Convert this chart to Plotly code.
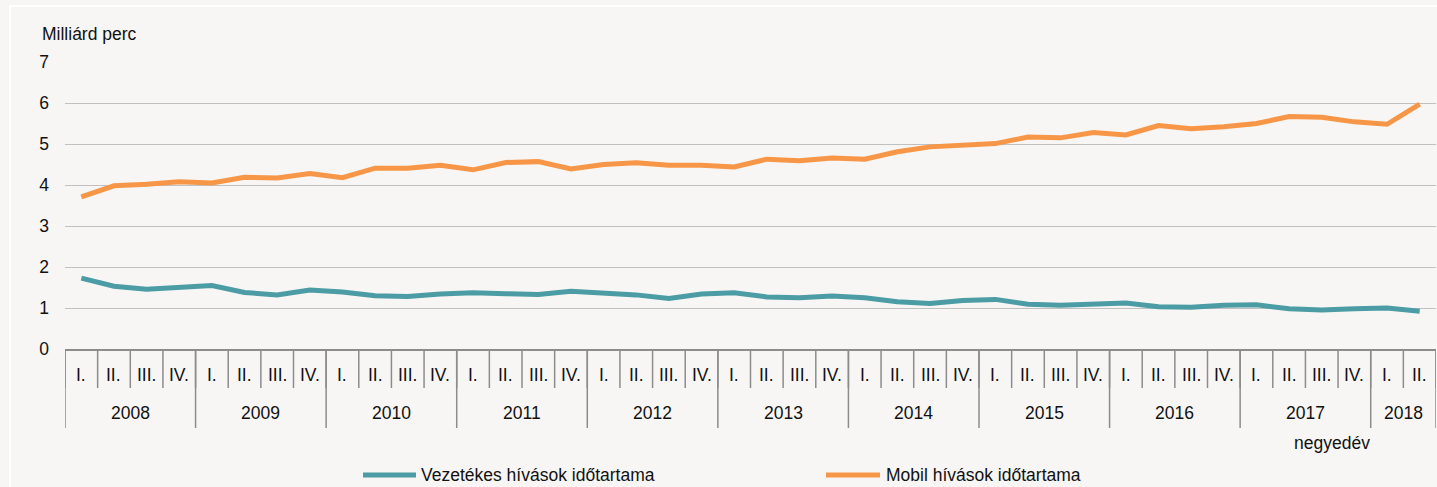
import plotly.graph_objects as go

years = ["2008", "2009", "2010", "2011", "2012", "2013", "2014", "2015", "2016", "2017", "2018"]
quarter_names = ["I.", "II.", "III.", "IV."]
quarters_per_year = [4, 4, 4, 4, 4, 4, 4, 4, 4, 4, 2]

vezetekes = [1.73, 1.53, 1.46, 1.52, 1.55, 1.38, 1.32, 1.44, 1.39, 1.30, 1.28, 1.34,
             1.37, 1.35, 1.33, 1.41, 1.38, 1.32, 1.23, 1.34, 1.37, 1.27, 1.25, 1.29,
             1.25, 1.15, 1.11, 1.18, 1.21, 1.09, 1.07, 1.10, 1.12, 1.03, 1.02, 1.07,
             1.08, 0.98, 0.95, 0.98, 1.00, 0.92]
mobil = [3.71, 3.98, 4.02, 4.08, 4.05, 4.19, 4.17, 4.28, 4.18, 4.41, 4.41, 4.48,
         4.37, 4.55, 4.57, 4.39, 4.50, 4.54, 4.48, 4.48, 4.44, 4.63, 4.59, 4.66,
         4.63, 4.81, 4.93, 4.98, 5.01, 5.17, 5.15, 5.28, 5.22, 5.45, 5.37, 5.42,
         5.50, 5.67, 5.65, 5.54, 5.48, 5.97]

y_title = "Milliárd perc"
x_title = "negyedév"
names = ["Vezetékes hívások időtartama", "Mobil hívások időtartama"]
colors = ["#4b9ca4", "#f79646"]

FONT = "Liberation Sans Narrow, Arial Narrow, Liberation Sans, Arial, sans-serif"
FS = 17.5
TXT = "#111111"
W, H = 1437, 487
ML, MR, MT, MB = 65, 1, 62, 138

q_labels = []
for y, n in zip(years, quarters_per_year):
    q_labels += quarter_names[:n]
N = len(q_labels)
xs = list(range(N))

fig = go.Figure()
for vals, nm, col in zip([vezetekes, mobil], names, colors):
    fig.add_trace(go.Scatter(x=xs, y=vals, mode="lines", name=nm,
                             line=dict(color=col, width=5), showlegend=False))

ph = H - MT - MB
def py(pix):  # pixel y -> paper y
    return (H - MB - pix) / ph
def px(pix):
    return (pix - ML) / (W - ML - MR)

shapes = []
annotations = []

# quarter dividers
for i in range(N + 1):
    shapes.append(dict(type="line", xref="x", yref="paper", x0=i - 0.5, x1=i - 0.5,
                       y0=0, y1=py(388), line=dict(color="#8c8c8c", width=1.5)))
# year dividers and labels
pos = 0
for y, n in zip(years, quarters_per_year):
    shapes.append(dict(type="line", xref="x", yref="paper", x0=pos - 0.5, x1=pos - 0.5,
                       y0=0, y1=py(428), line=dict(color="#8c8c8c", width=1.5)))
    annotations.append(dict(x=pos + (n - 1) / 2, y=py(413), xref="x", yref="paper",
                            text=y, showarrow=False, yanchor="middle",
                            font=dict(family=FONT, size=FS, color=TXT)))
    pos += n
shapes.append(dict(type="line", xref="x", yref="paper", x0=N - 0.5, x1=N - 0.5,
                   y0=0, y1=py(428), line=dict(color="#8c8c8c", width=1.5)))
for i, q in enumerate(q_labels):
    annotations.append(dict(x=i, y=py(375), xref="x", yref="paper", text=q,
                            showarrow=False, yanchor="middle",
                            font=dict(family=FONT, size=FS, color=TXT)))

annotations.append(dict(x=px(1372), y=py(443), xref="paper", yref="paper", text=x_title,
                        showarrow=False, yanchor="middle",
                        font=dict(family=FONT, size=FS, color=TXT)))
annotations.append(dict(x=px(40), y=py(34), xref="paper", yref="paper", text=y_title,
                        showarrow=False, xanchor="left", yanchor="middle",
                        font=dict(family=FONT, size=FS, color=TXT)))

# legend
leg = [(363, 416, 419), (826, 880, 884)]
for (l0, l1, tx), nm, col in zip(leg, names, colors):
    shapes.append(dict(type="line", xref="paper", yref="paper", x0=px(l0), x1=px(l1),
                       y0=py(475), y1=py(475), line=dict(color=col, width=5)))
    annotations.append(dict(x=px(tx), y=py(475), xref="paper", yref="paper", text=nm,
                            showarrow=False, xanchor="left", yanchor="middle",
                            font=dict(family=FONT, size=FS, color=TXT)))

# white frame
shapes.append(dict(type="rect", xref="paper", yref="paper", x0=px(10), x1=px(1445),
                   y0=py(495), y1=py(6), line=dict(color="#ffffff", width=2), layer="below"))

fig.update_layout(
    width=W, height=H,
    margin=dict(l=ML, r=MR, t=MT, b=MB),
    paper_bgcolor="#f7f6f4", plot_bgcolor="#f7f6f4",
    shapes=shapes, annotations=annotations,
    showlegend=False,
    xaxis=dict(range=[-0.5, N - 0.5], showgrid=False, zeroline=False,
               showticklabels=False, ticks="", showline=True,
               linecolor="#8c8c8c", linewidth=1.5),
    yaxis=dict(range=[0, 7], dtick=1, showgrid=True, gridcolor="#c0c0c0", gridwidth=1.2,
               zeroline=False, showline=False, ticks="",
               tickfont=dict(family=FONT, size=FS, color=TXT),
               ticklabelstandoff=15),
)

fig.write_html("out.html", config={"displayModeBar": False},
               post_script="document.body.style.margin='0';document.body.style.overflow='hidden';")
